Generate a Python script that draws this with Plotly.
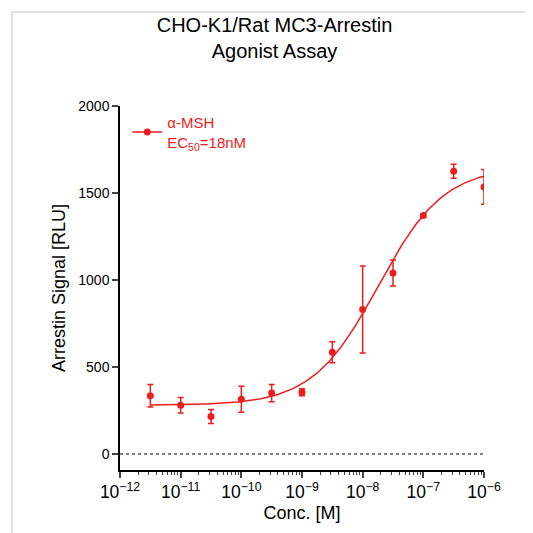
import numpy as np
import plotly.graph_objects as go

# measured points
conc = [10**-11.5, 1e-11, 10**-10.5, 1e-10, 10**-9.5, 1e-9, 10**-8.5, 1e-8, 10**-7.5, 1e-7, 10**-6.5, 1e-6]
signal = [335, 280, 215, 315, 350, 355, 585, 830, 1040, 1370, 1625, 1535]
err = [65, 45, 40, 75, 50, 20, 60, 250, 75, 10, 40, 100]

# 4PL fit parameters
bottom = 280
top = 1650
ec50 = 18e-9
hill = 0.8

red = "#ee1c1c"

xfit = np.logspace(-11.5, -6, 200)
yfit = bottom + (top - bottom) / (1 + (ec50 / xfit) ** hill)

fig = go.Figure()
fig.add_trace(go.Scatter(x=[1e-12, 1e-6], y=[0, 0], mode="lines",
                         line=dict(color="black", width=1, dash="dot"),
                         showlegend=False, hoverinfo="skip"))
fig.add_trace(go.Scatter(x=xfit, y=yfit, mode="lines", line=dict(color=red, width=1.5),
                         showlegend=False))
fig.add_trace(go.Scatter(x=conc, y=signal, mode="markers",
                         marker=dict(color=red, size=7),
                         error_y=dict(type="data", array=err, color=red, thickness=1.5, width=3),
                         showlegend=False))
fig.add_trace(go.Scatter(x=[None], y=[None], mode="lines+markers",
                         line=dict(color=red, width=1.5), marker=dict(color=red, size=7),
                         name="α-MSH<br>EC<sub>50</sub>=18nM"))

fig.update_layout(
    width=533, height=533,
    paper_bgcolor="white", plot_bgcolor="white",
    font=dict(family="Arial, Liberation Sans", size=15, color="black"),
    title=dict(text="CHO-K1/Rat MC3-Arrestin<br>Agonist Assay", x=0.5, xanchor="center",
               y=0.955, font=dict(size=20)),
    margin=dict(l=112, r=57, t=98, b=71),
    legend=dict(x=0.02, y=1.0, xanchor="left", yanchor="top", bgcolor="rgba(0,0,0,0)",
                font=dict(color=red, size=15)),
    shapes=[dict(type="rect", xref="paper", yref="paper", x0=-0.297, x1=1.148, y0=-0.184, y1=1.258,
                 line=dict(color="#d8d8d8", width=1.5))],
)
fig.update_xaxes(type="log", range=[-12, -6], dtick=1, exponentformat="power", automargin=False,
                 showline=True, linecolor="black", linewidth=1.5, ticks="outside",
                 ticklen=6, tickwidth=1.5, showgrid=False, zeroline=False,
                 minor=dict(ticks="outside", ticklen=3, tickwidth=1, dtick="D1", showgrid=False),
                 title=dict(text="Conc. [M]", standoff=5), tickfont=dict(size=14))
fig.update_yaxes(range=[-92, 2000], tickvals=[0, 500, 1000, 1500, 2000], automargin=False,
                 showline=True, linecolor="black", linewidth=1.5, ticks="outside",
                 ticklen=6, tickwidth=1.5, showgrid=False, zeroline=False,
                 title=dict(text="Arrestin Signal [RLU]", standoff=8), tickfont=dict(size=14))

fig.write_html("out.html")
